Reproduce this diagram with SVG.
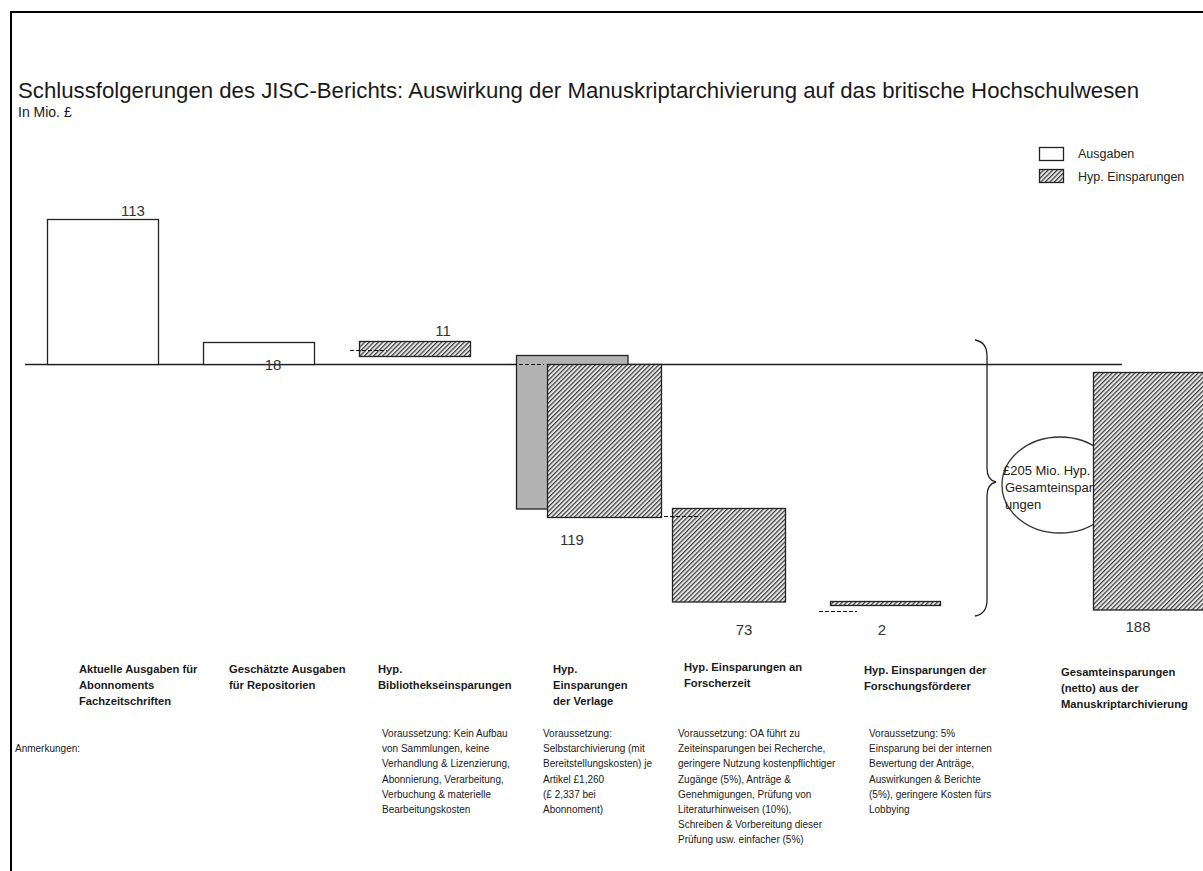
<svg xmlns="http://www.w3.org/2000/svg" width="1203" height="871" viewBox="0 0 1203 871">
<defs>
<pattern id="hatch" patternUnits="userSpaceOnUse" width="3.2" height="3.2" patternTransform="rotate(45)">
<rect width="3.2" height="3.2" fill="#e8e8e8"/>
<line x1="0.6" y1="0" x2="0.6" y2="3.2" stroke="#3a3a3a" stroke-width="1.2"/>
</pattern>
<style>
text{font-family:"Liberation Sans",Arial,sans-serif;fill:#1a1a1a}
.title{font-size:22px}
.sub{font-size:14px}
.leg{font-size:12.5px;fill:#222}
.call{font-size:13px;fill:#222}
.num{font-size:15px;fill:#333;text-anchor:middle}
.cat{font-size:11.2px;font-weight:bold}
.note{font-size:10px}
.bar{stroke:#222;stroke-width:1.3}
.out{fill:#fff}
.sav{fill:url(#hatch)}
.dash{stroke:#111;stroke-width:1.2;stroke-dasharray:4,2;fill:none}
</style>
</defs>
<rect width="1203" height="871" fill="#fff"/>
<g id="frame" stroke="#000" stroke-width="2" fill="none">
<line x1="10" y1="12" x2="1203" y2="12"/>
<line x1="11" y1="12" x2="11" y2="871"/>
</g>
<g id="title">
<text class="title" x="18" y="98" textLength="1121" lengthAdjust="spacingAndGlyphs">Schlussfolgerungen des JISC-Berichts: Auswirkung der Manuskriptarchivierung auf das britische Hochschulwesen</text>
<text class="sub" x="18" y="117">In Mio. £</text>
</g>
<g id="legend">
<rect class="bar out" x="1039.5" y="147.5" width="24" height="13" stroke-width="1"/>
<text class="leg" x="1078" y="158">Ausgaben</text>
<rect class="bar sav" x="1039.5" y="169.5" width="24" height="13" stroke-width="1"/>
<text class="leg" x="1078" y="181">Hyp. Einsparungen</text>
</g>
<g id="axis">
<line x1="25" y1="364.5" x2="1122" y2="364.5" stroke="#222" stroke-width="1.3"/>
</g>
<g id="bar-abonnements">
<rect class="bar out" x="47.5" y="219.5" width="111" height="145"/>
<text class="num" x="133" y="216">113</text>
</g>
<g id="bar-repositorien">
<rect class="bar out" x="203.5" y="342.5" width="111" height="22"/>
<text class="num" x="273" y="370">18</text>
</g>
<g id="bar-bibliotheken">
<rect class="bar sav" x="359.5" y="341.5" width="111" height="15"/>
<text class="num" x="443" y="336">11</text>
</g>
<g id="bar-verlage">
<rect class="bar" x="516.5" y="355.5" width="111.5" height="153.5" fill="#b3b3b3"/>
<rect class="bar sav" x="547.5" y="364.5" width="114" height="153"/>
<text class="num" x="572" y="545">119</text>
</g>
<g id="bar-forscherzeit">
<rect class="bar sav" x="672.5" y="508.5" width="113" height="93.5"/>
<text class="num" x="744" y="635">73</text>
</g>
<g id="bar-foerderer">
<rect class="bar sav" x="830.5" y="601.5" width="110" height="4"/>
<text class="num" x="882" y="635">2</text>
</g>
<g id="connectors">
<line class="dash" x1="350" y1="350.5" x2="387" y2="350.5"/>
<line class="dash" x1="507" y1="364.5" x2="544" y2="364.5"/>
<line class="dash" x1="664" y1="516.5" x2="701" y2="516.5"/>
<line class="dash" x1="819" y1="611.5" x2="857" y2="611.5"/>
</g>
<g id="brace">
<path d="M975,340 Q987,342 987,356 L987,468 Q987,480 996,482 Q987,484 987,496 L987,600 Q987,614 975,616" fill="none" stroke="#222" stroke-width="1.3"/>
</g>
<g id="callout">
<ellipse cx="1060" cy="485" rx="58" ry="48" fill="#fff" stroke="#333" stroke-width="1.3"/>
<text class="call" x="1003" y="475">£205 Mio. Hyp.</text>
<text class="call" x="1005" y="492">Gesamteinspar</text>
<text class="call" x="1005" y="509">ungen</text>
</g>
<g id="bar-gesamt">
<rect class="bar sav" x="1093.5" y="372.5" width="120" height="237.5"/>
<text class="num" x="1138" y="632">188</text>
</g>
<g id="categories">
<text class="cat" x="79" y="673">Aktuelle Ausgaben für</text>
<text class="cat" x="79" y="689">Abonnoments</text>
<text class="cat" x="79" y="705">Fachzeitschriften</text>
<text class="cat" x="229" y="673">Geschätzte Ausgaben</text>
<text class="cat" x="229" y="689">für Repositorien</text>
<text class="cat" x="378" y="673">Hyp.</text>
<text class="cat" x="378" y="689">Bibliothekseinsparungen</text>
<text class="cat" x="553" y="673">Hyp.</text>
<text class="cat" x="553" y="689">Einsparungen</text>
<text class="cat" x="553" y="705">der Verlage</text>
<text class="cat" x="684" y="671">Hyp. Einsparungen an</text>
<text class="cat" x="684" y="687">Forscherzeit</text>
<text class="cat" x="864" y="674">Hyp. Einsparungen der</text>
<text class="cat" x="864" y="690">Forschungsförderer</text>
<text class="cat" x="1061" y="676">Gesamteinsparungen</text>
<text class="cat" x="1061" y="692">(netto) aus der</text>
<text class="cat" x="1061" y="708">Manuskriptarchivierung</text>
</g>
<g id="notes">
<text class="note" x="15" y="752">Anmerkungen:</text>
<text class="note" x="382" y="737">Voraussetzung: Kein Aufbau</text>
<text class="note" x="382" y="752.2">von Sammlungen, keine</text>
<text class="note" x="382" y="767.4">Verhandlung &amp; Lizenzierung,</text>
<text class="note" x="382" y="782.6">Abonnierung, Verarbeitung,</text>
<text class="note" x="382" y="797.8">Verbuchung &amp;  materielle</text>
<text class="note" x="382" y="813">Bearbeitungskosten</text>
<text class="note" x="543" y="737">Voraussetzung:</text>
<text class="note" x="543" y="752.2">Selbstarchivierung (mit</text>
<text class="note" x="543" y="767.4">Bereitstellungskosten) je</text>
<text class="note" x="543" y="782.6">Artikel £1,260</text>
<text class="note" x="543" y="797.8">(£ 2,337 bei</text>
<text class="note" x="543" y="813">Abonnoment)</text>
<text class="note" x="678" y="737">Voraussetzung: OA führt zu</text>
<text class="note" x="678" y="752.2">Zeiteinsparungen bei Recherche,</text>
<text class="note" x="678" y="767.4">geringere Nutzung kostenpflichtiger</text>
<text class="note" x="678" y="782.6">Zugänge (5%), Anträge &amp;</text>
<text class="note" x="678" y="797.8">Genehmigungen, Prüfung von</text>
<text class="note" x="678" y="813">Literaturhinweisen (10%),</text>
<text class="note" x="678" y="828.2">Schreiben &amp; Vorbereitung dieser</text>
<text class="note" x="678" y="843.4">Prüfung usw. einfacher (5%)</text>
<text class="note" x="869" y="737">Voraussetzung: 5%</text>
<text class="note" x="869" y="752.2">Einsparung bei der internen</text>
<text class="note" x="869" y="767.4">Bewertung der Anträge,</text>
<text class="note" x="869" y="782.6">Auswirkungen &amp; Berichte</text>
<text class="note" x="869" y="797.8">(5%), geringere Kosten fürs</text>
<text class="note" x="869" y="813">Lobbying</text>
</g>
</svg>
